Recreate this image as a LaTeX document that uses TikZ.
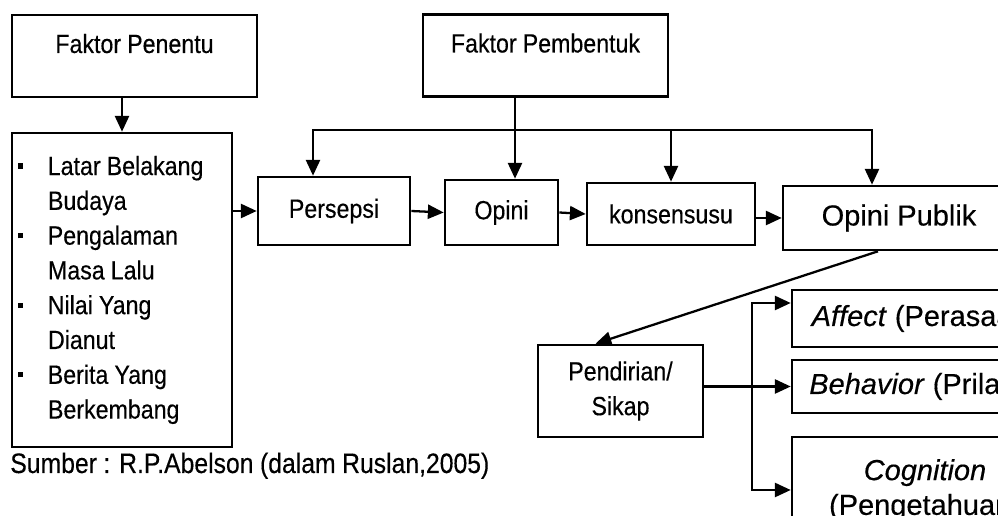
\documentclass[tikz,border=0pt]{standalone}
\usepackage{fontspec}
\setmainfont{Liberation Sans}[FakeStretch=0.88, WordSpace=0.95, FakeBold=0.3]
\newfontfamily\widefont{Liberation Sans}[FakeBold=0.3]
\usetikzlibrary{arrows.meta}

\newcommand{\blt}{\hspace*{0.12cm}\rule[3.6pt]{3pt}{3pt}\hspace*{0.49cm}}
\newcommand{\ind}{\hspace*{0.72cm}}

\begin{document}
\begin{tikzpicture}[
    x=0.02cm, y=-0.02cm,
    every node/.style={font=\fontsize{15}{19.8}\selectfont},
    box/.style={rectangle, draw, line width=1.5pt, inner sep=0pt, align=center},
    headbox/.style={box, minimum width=4.9cm, text height=0.76cm, text depth=0.88cm},
    bigbox/.style={box, minimum width=5.32cm, font=\widefont\fontsize{16.5}{19.8}\selectfont},
    arr/.style={-{Triangle[length=9pt, width=8pt]}, line width=1.3pt},
    arrs/.style={{Triangle[length=9pt, width=8pt]}-{Triangle[length=9pt, width=8pt]}, line width=1.3pt},
]
    \path[use as bounding box, fill=white] (0,0) rectangle (998,516);
    \clip (0,0) rectangle (998,516);

    \node[headbox] (penentu) at (134.5,56) {Faktor Penentu};
    \node[headbox] (pembentuk) at (545.5,55.5) {Faktor Pembentuk};
    \node[box, minimum width=4.4cm, minimum height=6.28cm, text width=4.4cm, align=flush left] (faktor) at (122,290)
        {\blt Latar Belakang\\ \ind Budaya\\ \blt Pengalaman\\ \ind Masa Lalu\\
         \blt Nilai Yang\\ \ind Dianut\\ \blt Berita Yang\\ \ind Berkembang};

    \node[box, minimum width=3.04cm, minimum height=1.36cm] (persepsi) at (334,211) {Persepsi};
    \node[box, minimum width=2.26cm, minimum height=1.3cm] (opini) at (501.5,212.5) {Opini};
    \node[box, minimum width=3.36cm, minimum height=1.24cm] (konsensus) at (671,214) {konsensusu};
    \node[box, minimum width=4.64cm, minimum height=1.28cm, font=\widefont\fontsize{16.5}{19.8}\selectfont] (publik) at (899,218) {Opini Publik};

    \node[box, minimum width=3.3cm, minimum height=1.84cm] (sikap) at (620.5,391) {Pendirian/\\Sikap};
    \node[bigbox, minimum height=1.14cm] (affect) at (925,318.5) {\textit{Affect} (Perasaan)};
    \node[bigbox, minimum height=1.06cm] (behavior) at (925,386.5) {\textit{Behavior} (Prilaku)};
    \node[bigbox, minimum height=2.12cm] (cognition) at (925,490) {\textit{Cognition}\\(Pengetahuan)};

    \node[anchor=base west, inner sep=0pt, font=\fontsize{16}{19}\selectfont] (sumber) at (10,473)
        {Sumber : R.P.Abelson (dalam Ruslan,2005)};

    \coordinate (busL) at (313,130);
    \coordinate (busR) at (872,130);
    \coordinate (drop) at (515,130);
    \coordinate (fork) at (752,0);

    \draw[arr] (faktor.north |- penentu.south) -- (faktor.north);
    \draw[arr] (faktor.east |- persepsi.west) -- (persepsi.west);
    \draw[arr] (persepsi.east) -- (opini.west);
    \draw[arr] (opini.east) -- (konsensus.west);
    \draw[arr] (konsensus.east |- publik.west) -- (publik.west);

    \draw[arr] (drop |- pembentuk.south) -- (drop |- opini.north);
    \draw[arrs] (busL |- persepsi.north) -- (busL) -- (busR) -- (busR |- publik.north);
    \draw[arr] (konsensus.north |- busL) -- (konsensus.north);

    \draw[arr] ([xshift=-0.42cm]publik.south) -- ([xshift=-0.5cm]sikap.north);
    \draw[arr] (sikap.east |- behavior.west) -- (behavior.west);
    \draw[arrs] ([yshift=0.31cm]affect.west) -| (fork |- cognition.west) -- (cognition.west);
\end{tikzpicture}
\end{document}
